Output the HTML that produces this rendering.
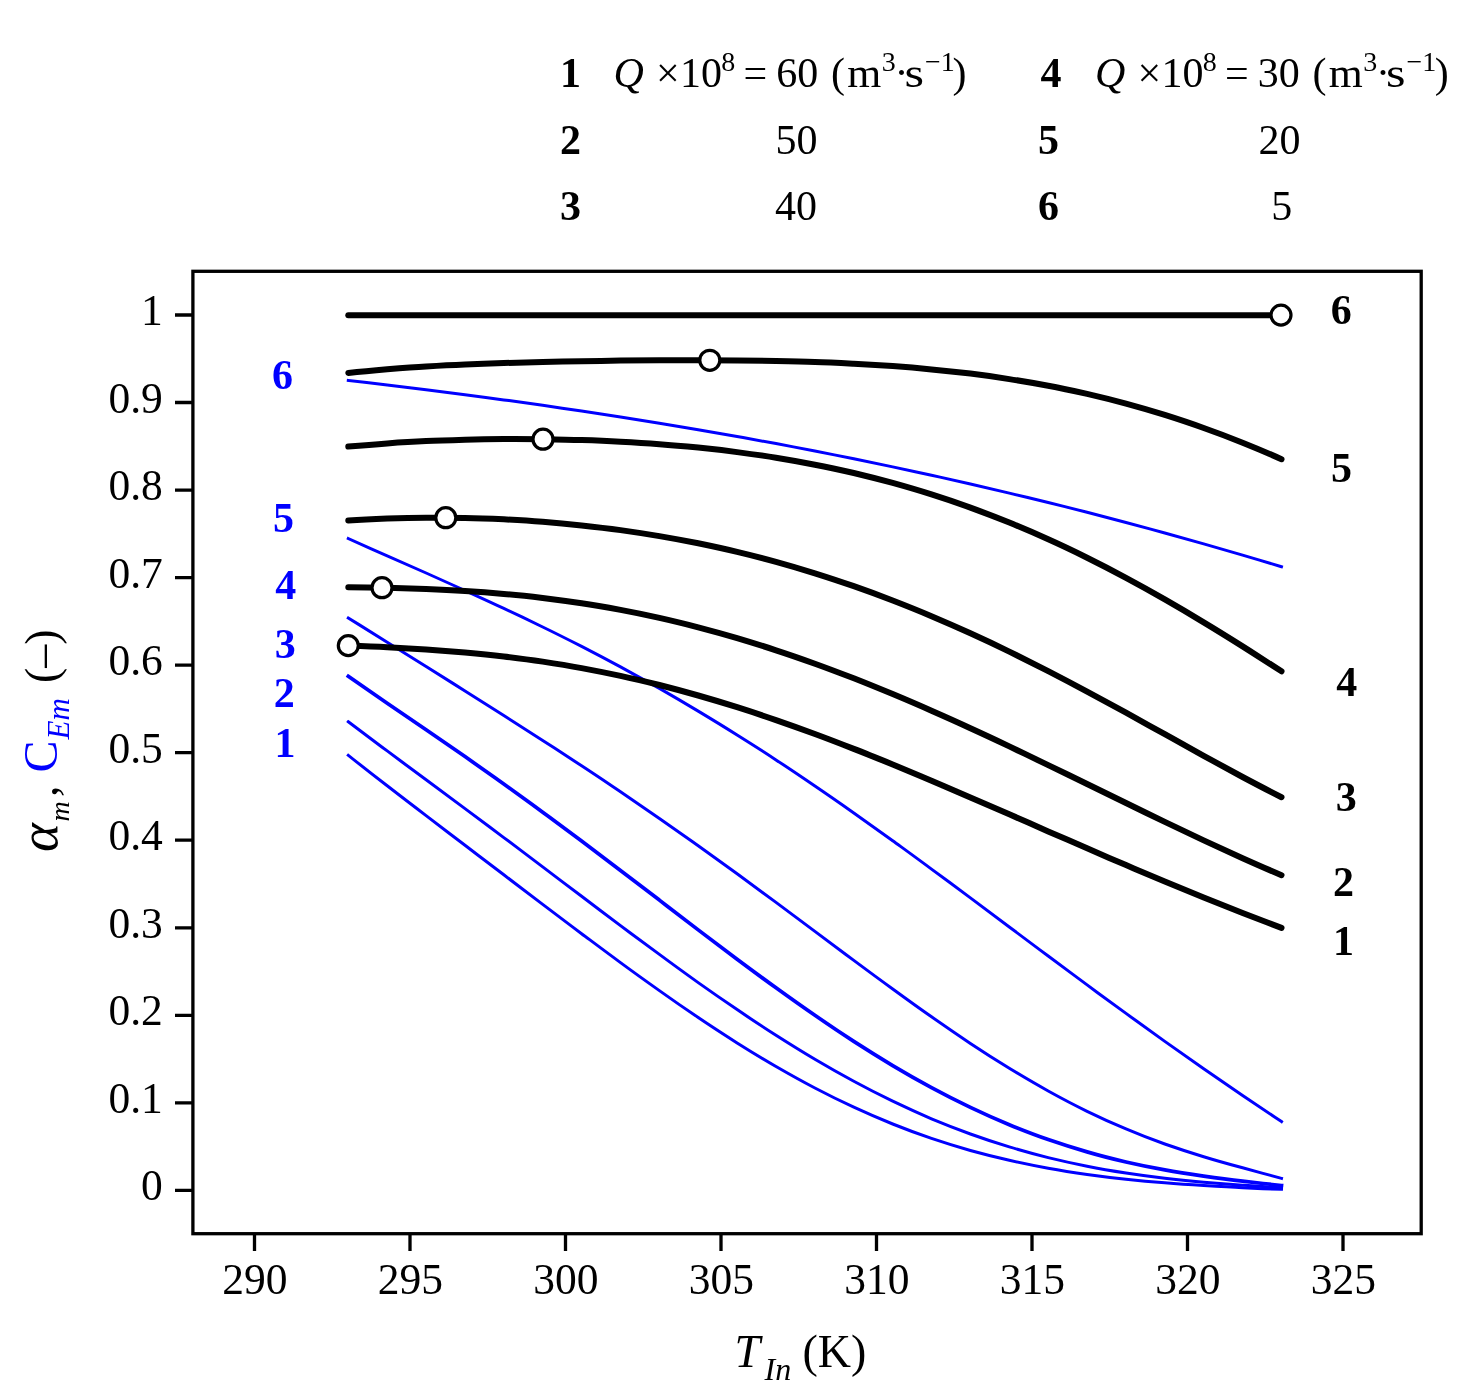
<!DOCTYPE html>
<html lang="en"><head><meta charset="utf-8"><title>Figure</title>
<style>
html,body{margin:0;padding:0;background:#fff;}
body{width:1471px;height:1399px;overflow:hidden;}
svg{display:block;font-family:"Liberation Serif","DejaVu Serif",serif;}
.t{font-size:42px;fill:#000;}
.b{font-weight:bold;}
.i{font-style:italic;}
.bl{fill:#0000ff;}
.k{fill:none;stroke:#000;stroke-width:6;stroke-linecap:round;stroke-linejoin:round;}
.u{fill:none;stroke:#0000ff;stroke-width:3;stroke-linecap:square;}
.c{fill:#fff;stroke:#000;stroke-width:3.2;}
.ax{stroke:#000;stroke-width:3.3;fill:none;}
</style></head><body>
<svg width="1471" height="1399" viewBox="0 0 1471 1399">
<rect width="1471" height="1399" fill="#fff"/>
<rect class="ax" x="192.9" y="271.3" width="1228.3" height="962.4"/>
<path class="ax" d="M175 1190.4H192.9M175 1102.9H192.9M175 1015.3H192.9M175 927.8H192.9M175 840.2H192.9M175 752.7H192.9M175 665.2H192.9M175 577.6H192.9M175 490.1H192.9M175 402.5H192.9M175 315.0H192.9M254.5 1233.7V1251M410.0 1233.7V1251M565.5 1233.7V1251M721.0 1233.7V1251M876.5 1233.7V1251M1032.0 1233.7V1251M1187.5 1233.7V1251M1343.0 1233.7V1251"/>
<g class="t" text-anchor="end" style="font-size:43.5px">
<text x="162.8" y="1200.4">0</text>
<text x="162.8" y="1112.9">0.1</text>
<text x="162.8" y="1025.3">0.2</text>
<text x="162.8" y="937.8">0.3</text>
<text x="162.8" y="850.2">0.4</text>
<text x="162.8" y="762.7">0.5</text>
<text x="162.8" y="675.2">0.6</text>
<text x="162.8" y="587.6">0.7</text>
<text x="162.8" y="500.1">0.8</text>
<text x="162.8" y="412.5">0.9</text>
<text x="162.8" y="325.0">1</text>
</g>
<g class="t" text-anchor="middle" style="font-size:43.5px">
<text x="254.8" y="1294.2">290</text>
<text x="410.3" y="1294.2">295</text>
<text x="565.8" y="1294.2">300</text>
<text x="721.3" y="1294.2">305</text>
<text x="876.8" y="1294.2">310</text>
<text x="1032.3" y="1294.2">315</text>
<text x="1187.8" y="1294.2">320</text>
<text x="1343.3" y="1294.2">325</text>
</g>
<path class="u" d="M348.3 380.4C361.3 381.9 374.2 383.4 387.2 385.0C400.1 386.5 413.1 388.1 426.1 389.7C439.0 391.3 452.0 393.0 465.0 394.7C477.9 396.4 490.9 398.1 503.8 399.9C516.8 401.6 529.8 403.4 542.7 405.3C555.7 407.2 568.6 409.1 581.6 411.0C594.6 412.9 607.5 414.9 620.5 416.9C633.4 419.0 646.4 421.1 659.4 423.2C672.3 425.3 685.3 427.5 698.2 429.7C711.2 431.9 724.2 434.2 737.1 436.5C750.1 438.8 763.1 441.2 776.0 443.6C789.0 446.0 801.9 448.5 814.9 451.0C827.9 453.6 840.8 456.2 853.8 458.8C866.7 461.4 879.7 464.1 892.7 466.9C905.6 469.6 918.6 472.4 931.5 475.3C944.5 478.1 957.5 481.0 970.4 484.0C983.4 487.0 996.4 490.0 1009.3 493.1C1022.3 496.2 1035.2 499.3 1048.2 502.5C1061.2 505.7 1074.1 509.0 1087.1 512.3C1100.0 515.7 1113.0 519.0 1126.0 522.5C1138.9 525.9 1151.9 529.4 1164.8 533.0C1177.8 536.6 1190.8 540.2 1203.7 543.9C1216.7 547.6 1229.7 551.3 1242.6 555.1C1255.6 558.9 1268.5 562.8 1281.5 566.7"/>
<path class="u" d="M348.3 538.6C361.3 544.4 374.2 550.1 387.2 555.8C400.1 561.6 413.1 567.3 426.1 573.0C439.0 578.8 452.0 584.6 465.0 590.5C477.9 596.4 490.9 602.3 503.8 608.4C516.8 614.5 529.8 620.7 542.7 627.0C555.7 633.3 568.6 639.8 581.6 646.4C594.6 653.1 607.5 659.9 620.5 666.9C633.4 673.9 646.4 681.1 659.4 688.4C672.3 695.8 685.3 703.4 698.2 711.1C711.2 718.9 724.2 726.8 737.1 735.0C750.1 743.1 763.1 751.4 776.0 759.9C789.0 768.4 801.9 777.1 814.9 786.0C827.9 794.8 840.8 803.8 853.8 812.9C866.7 822.1 879.7 831.3 892.7 840.7C905.6 850.1 918.6 859.5 931.5 869.1C944.5 878.6 957.5 888.3 970.4 897.9C983.4 907.6 996.4 917.3 1009.3 927.0C1022.3 936.7 1035.2 946.4 1048.2 956.0C1061.2 965.7 1074.1 975.3 1087.1 984.9C1100.0 994.5 1113.0 1004.0 1126.0 1013.4C1138.9 1022.8 1151.9 1032.2 1164.8 1041.4C1177.8 1050.6 1190.8 1059.7 1203.7 1068.8C1216.7 1077.8 1229.7 1086.7 1242.6 1095.5C1255.6 1104.3 1268.5 1113.0 1281.5 1121.6"/>
<path class="u" d="M348.3 618.0C361.3 626.0 374.2 634.1 387.2 642.2C400.1 650.3 413.1 658.4 426.1 666.5C439.0 674.6 452.0 682.8 465.0 690.9C477.9 699.1 490.9 707.3 503.8 715.5C516.8 723.8 529.8 732.1 542.7 740.4C555.7 748.8 568.6 757.2 581.6 765.8C594.6 774.3 607.5 783.0 620.5 791.7C633.4 800.5 646.4 809.4 659.4 818.4C672.3 827.4 685.3 836.5 698.2 845.7C711.2 855.0 724.2 864.4 737.1 873.8C750.1 883.3 763.1 892.8 776.0 902.4C789.0 912.1 801.9 921.7 814.9 931.4C827.9 941.1 840.8 950.8 853.8 960.4C866.7 970.0 879.7 979.6 892.7 989.0C905.6 998.4 918.6 1007.8 931.5 1016.8C944.5 1025.9 957.5 1034.8 970.4 1043.4C983.4 1052.0 996.4 1060.3 1009.3 1068.3C1022.3 1076.2 1035.2 1083.8 1048.2 1091.0C1061.2 1098.2 1074.1 1105.0 1087.1 1111.3C1100.0 1117.6 1113.0 1123.5 1126.0 1128.9C1138.9 1134.4 1151.9 1139.4 1164.8 1144.0C1177.8 1148.6 1190.8 1152.8 1203.7 1156.7C1216.7 1160.7 1229.7 1164.3 1242.6 1167.8C1255.6 1171.4 1268.5 1174.8 1281.5 1178.4"/>
<path class="u" style="stroke-width:3.7" d="M348.3 676.3C361.3 685.4 374.2 694.3 387.2 703.2C400.1 712.1 413.1 720.9 426.1 729.8C439.0 738.7 452.0 747.6 465.0 756.6C477.9 765.7 490.9 774.8 503.8 784.0C516.8 793.3 529.8 802.7 542.7 812.2C555.7 821.7 568.6 831.3 581.6 841.0C594.6 850.7 607.5 860.6 620.5 870.4C633.4 880.3 646.4 890.2 659.4 900.1C672.3 910.1 685.3 920.0 698.2 929.9C711.2 939.7 724.2 949.5 737.1 959.2C750.1 968.9 763.1 978.5 776.0 987.8C789.0 997.2 801.9 1006.4 814.9 1015.3C827.9 1024.3 840.8 1033.0 853.8 1041.4C866.7 1049.7 879.7 1057.8 892.7 1065.6C905.6 1073.3 918.6 1080.7 931.5 1087.6C944.5 1094.6 957.5 1101.2 970.4 1107.4C983.4 1113.6 996.4 1119.4 1009.3 1124.8C1022.3 1130.1 1035.2 1135.1 1048.2 1139.6C1061.2 1144.1 1074.1 1148.2 1087.1 1151.9C1100.0 1155.7 1113.0 1159.0 1126.0 1162.0C1138.9 1165.0 1151.9 1167.6 1164.8 1169.9C1177.8 1172.3 1190.8 1174.3 1203.7 1176.2C1216.7 1178.0 1229.7 1179.7 1242.6 1181.2C1255.6 1182.7 1268.5 1184.1 1281.5 1185.5"/>
<path class="u" d="M348.3 721.8C361.3 731.6 374.2 741.3 387.2 750.9C400.1 760.6 413.1 770.1 426.1 779.7C439.0 789.3 452.0 798.9 465.0 808.6C477.9 818.2 490.9 827.9 503.8 837.6C516.8 847.3 529.8 857.1 542.7 866.9C555.7 876.7 568.6 886.5 581.6 896.3C594.6 906.1 607.5 915.8 620.5 925.6C633.4 935.3 646.4 944.9 659.4 954.4C672.3 964.0 685.3 973.4 698.2 982.6C711.2 991.8 724.2 1000.8 737.1 1009.6C750.1 1018.5 763.1 1027.0 776.0 1035.3C789.0 1043.6 801.9 1051.6 814.9 1059.3C827.9 1067.0 840.8 1074.3 853.8 1081.3C866.7 1088.3 879.7 1094.9 892.7 1101.2C905.6 1107.4 918.6 1113.3 931.5 1118.8C944.5 1124.2 957.5 1129.3 970.4 1134.0C983.4 1138.7 996.4 1143.0 1009.3 1146.9C1022.3 1150.8 1035.2 1154.4 1048.2 1157.6C1061.2 1160.8 1074.1 1163.6 1087.1 1166.2C1100.0 1168.8 1113.0 1171.0 1126.0 1173.0C1138.9 1175.0 1151.9 1176.7 1164.8 1178.2C1177.8 1179.7 1190.8 1181.0 1203.7 1182.2C1216.7 1183.3 1229.7 1184.3 1242.6 1185.2C1255.6 1186.1 1268.5 1187.0 1281.5 1187.7"/>
<path class="u" d="M348.3 755.3C361.3 765.7 374.2 775.8 387.2 785.8C400.1 795.8 413.1 805.8 426.1 815.6C439.0 825.5 452.0 835.4 465.0 845.2C477.9 855.1 490.9 865.0 503.8 874.8C516.8 884.7 529.8 894.5 542.7 904.4C555.7 914.2 568.6 924.0 581.6 933.7C594.6 943.4 607.5 953.1 620.5 962.6C633.4 972.1 646.4 981.4 659.4 990.6C672.3 999.8 685.3 1008.8 698.2 1017.5C711.2 1026.3 724.2 1034.7 737.1 1042.9C750.1 1051.1 763.1 1059.0 776.0 1066.5C789.0 1074.0 801.9 1081.2 814.9 1088.0C827.9 1094.8 840.8 1101.2 853.8 1107.2C866.7 1113.2 879.7 1118.8 892.7 1124.0C905.6 1129.2 918.6 1134.0 931.5 1138.4C944.5 1142.8 957.5 1146.8 970.4 1150.5C983.4 1154.1 996.4 1157.4 1009.3 1160.3C1022.3 1163.3 1035.2 1165.9 1048.2 1168.2C1061.2 1170.6 1074.1 1172.6 1087.1 1174.4C1100.0 1176.2 1113.0 1177.8 1126.0 1179.2C1138.9 1180.6 1151.9 1181.8 1164.8 1182.8C1177.8 1183.9 1190.8 1184.8 1203.7 1185.6C1216.7 1186.4 1229.7 1187.2 1242.6 1187.8C1255.6 1188.4 1268.5 1188.9 1281.5 1189.3"/>
<path class="k" d="M348.3 315.3H1281.5"/>
<path class="k" d="M348.3 373.0C361.3 371.5 374.2 370.3 387.2 369.2C400.1 368.2 413.1 367.2 426.1 366.5C439.0 365.7 452.0 365.0 465.0 364.5C477.9 363.9 490.9 363.4 503.8 363.0C516.8 362.6 529.8 362.3 542.7 362.0C555.7 361.7 568.6 361.4 581.6 361.2C594.6 361.0 607.5 360.8 620.5 360.6C633.4 360.5 646.4 360.4 659.4 360.3C672.3 360.3 685.3 360.2 698.2 360.2C711.2 360.3 724.2 360.3 737.1 360.5C750.1 360.6 763.1 360.8 776.0 361.0C789.0 361.3 801.9 361.6 814.9 362.1C827.9 362.5 840.8 363.1 853.8 363.7C866.7 364.4 879.7 365.2 892.7 366.1C905.6 367.0 918.6 368.1 931.5 369.4C944.5 370.6 957.5 372.0 970.4 373.6C983.4 375.2 996.4 377.0 1009.3 379.1C1022.3 381.1 1035.2 383.3 1048.2 385.8C1061.2 388.2 1074.1 391.0 1087.1 393.9C1100.0 396.9 1113.0 400.1 1126.0 403.6C1138.9 407.1 1151.9 410.9 1164.8 414.9C1177.8 419.0 1190.8 423.3 1203.7 428.0C1216.7 432.6 1229.7 437.5 1242.6 442.7C1255.6 447.9 1268.5 453.4 1281.5 459.2"/>
<path class="k" d="M348.3 446.6C361.3 445.4 374.2 444.3 387.2 443.4C400.1 442.5 413.1 441.7 426.1 441.1C439.0 440.5 452.0 440.1 465.0 439.7C477.9 439.4 490.9 439.2 503.8 439.1C516.8 439.0 529.8 439.1 542.7 439.2C555.7 439.4 568.6 439.6 581.6 440.1C594.6 440.5 607.5 441.0 620.5 441.7C633.4 442.4 646.4 443.2 659.4 444.2C672.3 445.1 685.3 446.3 698.2 447.6C711.2 448.9 724.2 450.4 737.1 452.1C750.1 453.8 763.1 455.6 776.0 457.7C789.0 459.8 801.9 462.1 814.9 464.7C827.9 467.2 840.8 470.0 853.8 473.0C866.7 476.1 879.7 479.4 892.7 482.9C905.6 486.5 918.6 490.3 931.5 494.4C944.5 498.5 957.5 502.9 970.4 507.6C983.4 512.3 996.4 517.3 1009.3 522.6C1022.3 527.8 1035.2 533.4 1048.2 539.3C1061.2 545.1 1074.1 551.3 1087.1 557.7C1100.0 564.1 1113.0 570.8 1126.0 577.8C1138.9 584.7 1151.9 591.9 1164.8 599.4C1177.8 606.8 1190.8 614.5 1203.7 622.4C1216.7 630.2 1229.7 638.3 1242.6 646.4C1255.6 654.6 1268.5 662.9 1281.5 671.3"/>
<path class="k" d="M348.3 520.5C361.3 519.6 374.2 519.0 387.2 518.5C400.1 518.1 413.1 517.8 426.1 517.7C439.0 517.6 452.0 517.7 465.0 518.0C477.9 518.2 490.9 518.7 503.8 519.3C516.8 520.0 529.8 520.8 542.7 521.8C555.7 522.8 568.6 524.0 581.6 525.4C594.6 526.8 607.5 528.3 620.5 530.1C633.4 531.9 646.4 533.9 659.4 536.1C672.3 538.3 685.3 540.7 698.2 543.3C711.2 546.0 724.2 548.8 737.1 551.9C750.1 555.0 763.1 558.3 776.0 561.9C789.0 565.5 801.9 569.3 814.9 573.3C827.9 577.4 840.8 581.6 853.8 586.2C866.7 590.7 879.7 595.5 892.7 600.5C905.6 605.5 918.6 610.7 931.5 616.2C944.5 621.7 957.5 627.4 970.4 633.3C983.4 639.2 996.4 645.3 1009.3 651.6C1022.3 658.0 1035.2 664.5 1048.2 671.1C1061.2 677.8 1074.1 684.6 1087.1 691.6C1100.0 698.5 1113.0 705.6 1126.0 712.7C1138.9 719.8 1151.9 727.0 1164.8 734.2C1177.8 741.4 1190.8 748.7 1203.7 755.8C1216.7 763.0 1229.7 770.0 1242.6 777.0C1255.6 783.9 1268.5 790.7 1281.5 797.2"/>
<path class="k" d="M348.3 587.3C361.3 587.4 374.2 587.6 387.2 587.8C400.1 588.1 413.1 588.5 426.1 589.0C439.0 589.5 452.0 590.1 465.0 590.9C477.9 591.7 490.9 592.7 503.8 593.9C516.8 595.0 529.8 596.4 542.7 597.9C555.7 599.5 568.6 601.3 581.6 603.3C594.6 605.2 607.5 607.5 620.5 609.9C633.4 612.3 646.4 615.0 659.4 617.9C672.3 620.8 685.3 624.0 698.2 627.3C711.2 630.7 724.2 634.3 737.1 638.1C750.1 642.0 763.1 646.0 776.0 650.3C789.0 654.5 801.9 659.0 814.9 663.7C827.9 668.4 840.8 673.3 853.8 678.3C866.7 683.4 879.7 688.7 892.7 694.1C905.6 699.5 918.6 705.0 931.5 710.8C944.5 716.5 957.5 722.3 970.4 728.3C983.4 734.2 996.4 740.3 1009.3 746.4C1022.3 752.6 1035.2 758.8 1048.2 765.1C1061.2 771.4 1074.1 777.7 1087.1 784.0C1100.0 790.4 1113.0 796.7 1126.0 803.0C1138.9 809.3 1151.9 815.6 1164.8 821.9C1177.8 828.1 1190.8 834.3 1203.7 840.4C1216.7 846.4 1229.7 852.4 1242.6 858.2C1255.6 864.0 1268.5 869.7 1281.5 875.2"/>
<path class="k" d="M348.3 645.6C361.3 646.1 374.2 646.6 387.2 647.3C400.1 647.9 413.1 648.6 426.1 649.4C439.0 650.3 452.0 651.3 465.0 652.4C477.9 653.6 490.9 654.9 503.8 656.4C516.8 658.0 529.8 659.7 542.7 661.6C555.7 663.6 568.6 665.7 581.6 668.1C594.6 670.5 607.5 673.1 620.5 675.9C633.4 678.7 646.4 681.8 659.4 685.0C672.3 688.3 685.3 691.8 698.2 695.5C711.2 699.2 724.2 703.1 737.1 707.2C750.1 711.3 763.1 715.6 776.0 720.1C789.0 724.6 801.9 729.2 814.9 734.0C827.9 738.8 840.8 743.8 853.8 748.9C866.7 753.9 879.7 759.2 892.7 764.5C905.6 769.8 918.6 775.2 931.5 780.7C944.5 786.2 957.5 791.8 970.4 797.4C983.4 803.0 996.4 808.6 1009.3 814.3C1022.3 820.0 1035.2 825.7 1048.2 831.4C1061.2 837.0 1074.1 842.7 1087.1 848.3C1100.0 854.0 1113.0 859.6 1126.0 865.1C1138.9 870.7 1151.9 876.1 1164.8 881.6C1177.8 887.0 1190.8 892.3 1203.7 897.6C1216.7 902.8 1229.7 908.0 1242.6 913.0C1255.6 918.1 1268.5 923.0 1281.5 927.9"/>
<circle class="c" cx="1281.0" cy="315.1" r="10"/>
<circle class="c" cx="709.8" cy="360.3" r="10"/>
<circle class="c" cx="543.0" cy="439.2" r="10"/>
<circle class="c" cx="445.8" cy="517.7" r="10"/>
<circle class="c" cx="382.0" cy="587.7" r="10"/>
<circle class="c" cx="348.3" cy="645.6" r="10"/>
<g class="t b" text-anchor="middle">
<text x="1341.2" y="324.3">6</text>
<text x="1341.4" y="482.3">5</text>
<text x="1346.8" y="695.5">4</text>
<text x="1346.2" y="811.0">3</text>
<text x="1343.5" y="895.5">2</text>
<text x="1343.6" y="954.7">1</text>
</g>
<g class="t b bl" text-anchor="middle">
<text x="282.6" y="389.0">6</text>
<text x="283.5" y="532.0">5</text>
<text x="285.7" y="598.8">4</text>
<text x="285.2" y="658.0">3</text>
<text x="284.3" y="706.6">2</text>
<text x="285.0" y="757.4">1</text>
</g>
<g class="t">
<text class="b" x="570.6" y="87.0" text-anchor="middle">1</text>
<text class="b" x="570.6" y="153.5" text-anchor="middle">2</text>
<text class="b" x="570.6" y="220.2" text-anchor="middle">3</text>
<text class="i" x="613.5" y="87.0">Q</text>
<text x="656.0" y="87.0">×</text>
<text x="680.0" y="87.0">10</text>
<text x="721.3" y="71.0" style="font-size:28px">8</text>
<text x="743.5" y="87.0">=</text>
<text x="797.2" y="87.0" text-anchor="middle">60</text>
<text x="831.0" y="87.0">(</text>
<text x="847.3" y="87.0" textLength="34" lengthAdjust="spacingAndGlyphs">m</text>
<text x="881.8" y="71.0" style="font-size:28px">3</text>
<text x="894.5" y="87.0">·</text>
<text x="904.5" y="87.0" textLength="19.5" lengthAdjust="spacingAndGlyphs">s</text>
<text x="925.0" y="71.0" style="font-size:28px">−1</text>
<text x="952.5" y="87.0">)</text>
<text x="796.5" y="153.5" text-anchor="middle">50</text>
<text x="796.0" y="220.2" text-anchor="middle">40</text>
</g>
<g class="t">
<text class="b" x="1051.1" y="87.0" text-anchor="middle">4</text>
<text class="b" x="1048.5" y="153.5" text-anchor="middle">5</text>
<text class="b" x="1048.5" y="220.2" text-anchor="middle">6</text>
<text class="i" x="1095.0" y="87.0">Q</text>
<text x="1137.5" y="87.0">×</text>
<text x="1161.5" y="87.0">10</text>
<text x="1202.8" y="71.0" style="font-size:28px">8</text>
<text x="1225.0" y="87.0">=</text>
<text x="1278.7" y="87.0" text-anchor="middle">30</text>
<text x="1312.5" y="87.0">(</text>
<text x="1328.8" y="87.0" textLength="34" lengthAdjust="spacingAndGlyphs">m</text>
<text x="1363.3" y="71.0" style="font-size:28px">3</text>
<text x="1376.0" y="87.0">·</text>
<text x="1386.0" y="87.0" textLength="19.5" lengthAdjust="spacingAndGlyphs">s</text>
<text x="1406.5" y="71.0" style="font-size:28px">−1</text>
<text x="1434.8" y="87.0">)</text>
<text x="1279.6" y="153.5" text-anchor="middle">20</text>
<text x="1281.7" y="220.2" text-anchor="middle">5</text>
</g>
<g class="t" style="font-size:46px">
<text class="i" x="734.5" y="1367.3">T</text>
<text class="i" x="764.5" y="1380.3" style="font-size:32px">In</text>
<text x="802.5" y="1367.3">(K)</text>
</g>
<g class="t" style="font-size:46px" transform="translate(57.4 0) rotate(-90)">
<text class="i" x="-852" y="0" style="font-size:55px">α</text>
<text class="i" x="-821.5" y="12" style="font-size:28px">m</text>
<text x="-797" y="0">,</text>
<text class="bl" x="-772.5" y="0" style="font-size:48px">C</text>
<text class="i bl" x="-739.5" y="12" style="font-size:31px">Em</text>
<text x="-683" y="0">(–)</text>
</g>
</svg>
</body></html>
